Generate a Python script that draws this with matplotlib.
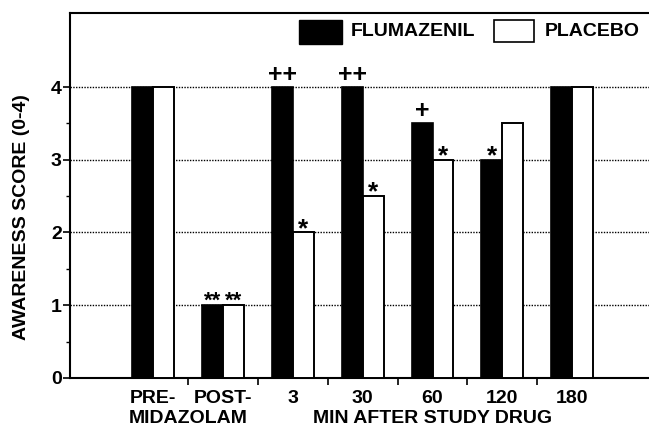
import matplotlib
matplotlib.use("Agg")
import matplotlib.pyplot as plt
import numpy as np
from matplotlib.patches import Rectangle

plt.rcParams['font.family'] = ['Liberation Sans', 'DejaVu Sans']

groups = ["PRE-", "POST-", "3", "30", "60", "120", "180"]
flumazenil = [4, 1, 4, 4, 3.5, 3, 4]
placebo = [4, 1, 2, 2.5, 3, 3.5, 4]
flum_marks = ["", "**", "++", "++", "+", "*", ""]
plac_marks = ["", "**", "*", "*", "*", "", ""]
yticks = [0, 1, 2, 3, 4]
ylabel = "AWARENESS SCORE (0-4)"

FS = 14
FW = "bold"

fig = plt.figure(figsize=(6.49, 4.29), dpi=100)
ax = fig.add_axes([0.108, 0.119, 0.892, 0.851])

x = np.arange(len(groups))
w = 0.30
ax.bar(x - w / 2, flumazenil, w, color="black", edgecolor="black", linewidth=1.2, zorder=3)
ax.bar(x + w / 2, placebo, w, color="white", edgecolor="black", linewidth=1.4, zorder=3)

def mark(xi, v, m):
    if "+" in m:
        ax.annotate(m, (xi, v), xytext=(0, 0), textcoords="offset points",
                    ha="center", va="bottom", fontsize=18, fontweight="bold")
    elif m == "**":
        ax.annotate(m, (xi, v), xytext=(0, -5), textcoords="offset points",
                    ha="center", va="bottom", fontsize=16, fontweight="bold")
    else:
        ax.annotate(m, (xi, v), xytext=(0, -6), textcoords="offset points",
                    ha="center", va="bottom", fontsize=19, fontweight="bold")

for xi, v, m in zip(x - w / 2, flumazenil, flum_marks):
    if m:
        mark(xi, v, m)
for xi, v, m in zip(x + w / 2, placebo, plac_marks):
    if m:
        mark(xi, v, m)

ax.set_xlim(-1.19, 7.1)
ax.set_ylim(0, 5.02)
ax.set_yticks(yticks)
ax.set_yticklabels([str(t) for t in yticks], fontsize=FS, fontweight=FW)
ax.set_yticks([0.5, 1.5, 2.5, 3.5], minor=True)
ax.tick_params(axis="y", which="major", direction="out", length=5, width=1.2, pad=1)
ax.tick_params(axis="y", which="minor", direction="out", length=3, width=1)
ax.set_xticks(x[:-1] + 0.5)
ax.set_xticklabels([])
ax.tick_params(axis="x", direction="out", length=5, width=1.2)

ax.yaxis.grid(True, linestyle=(0, (1, 1)), color="black", linewidth=1.0, zorder=1)
ax.set_axisbelow(True)

for s in ["left", "bottom", "top"]:
    ax.spines[s].set_linewidth(1.5)
ax.spines["right"].set_visible(False)

fig.text(22 / 649, 1 - 217 / 429, ylabel, rotation=90, ha="center", va="center",
         fontsize=FS, fontweight=FW)

for xi, g in zip(x, groups):
    ax.text(xi, -0.165, g, ha="center", va="top", fontsize=FS, fontweight=FW)
ax.text(0.5, -0.44, "MIDAZOLAM", ha="center", va="top", fontsize=FS, fontweight=FW)
ax.text(4.0, -0.44, "MIN AFTER STUDY DRUG", ha="center", va="top", fontsize=FS, fontweight=FW)

# legend
ax.add_patch(Rectangle((2.09, 4.59), 0.62, 0.33, facecolor="black", edgecolor="black",
                       transform=ax.transData, clip_on=False, zorder=4))
ax.text(2.83, 4.76, "FLUMAZENIL", ha="left", va="center", fontsize=FS, fontweight=FW)
ax.add_patch(Rectangle((4.88, 4.62), 0.58, 0.30, facecolor="white", edgecolor="black",
                       linewidth=1.2, transform=ax.transData, clip_on=False, zorder=4))
ax.text(5.61, 4.76, "PLACEBO", ha="left", va="center", fontsize=FS, fontweight=FW)

fig.savefig("out.png", dpi=100)
